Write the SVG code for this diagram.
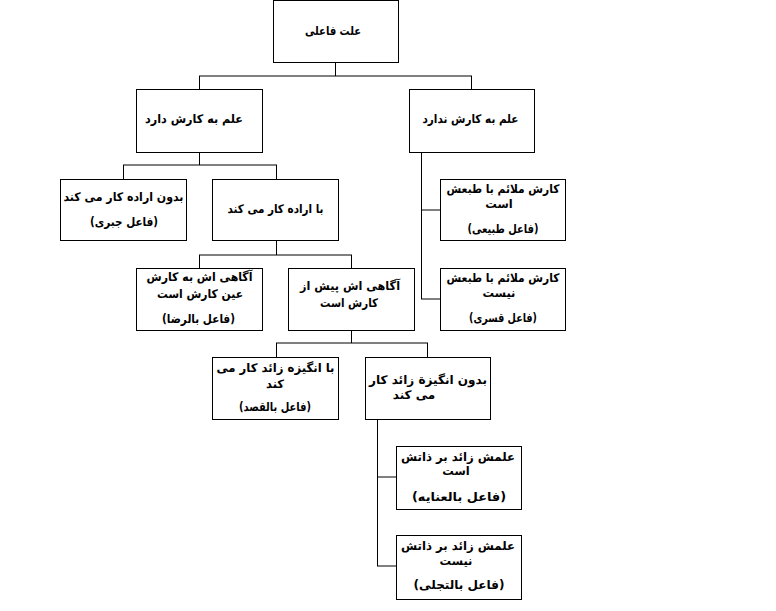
<svg xmlns="http://www.w3.org/2000/svg" width="776" height="611" viewBox="0 0 776 611">
<style>
rect.b{fill:#fff;stroke:#000;stroke-width:1}
text{font-family:"DejaVu Sans",sans-serif;font-weight:bold;font-size:12px;fill:#000;text-anchor:middle;direction:rtl}
text.s{font-size:11.5px}
.c path{fill:none;stroke:#000;stroke-width:1}
</style>
<rect width="776" height="611" fill="#fff"/>
<g class="c" id="connectors">
<path d="M335.5 63V76M199 76H472M199.5 76V89M471.5 76V89"/>
<path d="M199.5 153V165M123 165H277M123.5 165V179M276.5 165V179"/>
<path d="M276.5 241V255M199 255H352M199.5 255V268M351.5 255V268"/>
<path d="M351.5 331V343M276 343H428M276.5 343V357M427.5 343V357"/>
<path d="M421.5 153V299M421 210H440M421 299H440"/>
<path d="M377.5 420V566M377 477H396M377 566H396"/>
</g>
<g id="n_root"><rect class="b" x="273.5" y="0.5" width="125" height="62"/><text x="333" y="35" textLength="56" lengthAdjust="spacingAndGlyphs">علت فاعلی</text></g>
<g id="n_dard"><rect class="b" x="136.5" y="89.5" width="126" height="63"/><text x="194" y="123" textLength="98" lengthAdjust="spacingAndGlyphs">علم به کارش دارد</text></g>
<g id="n_nadard"><rect class="b" x="409.5" y="89.5" width="125" height="63"/><text x="470.5" y="123" textLength="96" lengthAdjust="spacingAndGlyphs">علم به کارش ندارد</text></g>
<g id="n_jabri"><rect class="b" x="60.5" y="179.5" width="126" height="61"/><text x="123.5" y="201" textLength="120" lengthAdjust="spacingAndGlyphs">بدون اراده کار می کند</text><text x="124" y="226" textLength="68" lengthAdjust="spacingAndGlyphs">(فاعل جبری)</text></g>
<g id="n_eradeh"><rect class="b" x="212.5" y="179.5" width="126" height="61"/><text x="275.5" y="213" textLength="96" lengthAdjust="spacingAndGlyphs">با اراده کار می کند</text></g>
<g id="n_tabii"><rect class="b" x="440.5" y="179.5" width="125" height="61"/><text x="503" y="193" textLength="113" lengthAdjust="spacingAndGlyphs">کارش ملائم با طبعش</text><text class="s" x="499" y="208">است</text><text x="503" y="233" textLength="71" lengthAdjust="spacingAndGlyphs">(فاعل طبیعی)</text></g>
<g id="n_reza"><rect class="b" x="136.5" y="268.5" width="126" height="62"/><text x="199.5" y="281" textLength="106" lengthAdjust="spacingAndGlyphs">آگاهی اش به کارش</text><text x="200" y="298" textLength="86" lengthAdjust="spacingAndGlyphs">عین کارش است</text><text x="198.5" y="323" textLength="73" lengthAdjust="spacingAndGlyphs">(فاعل بالرضا)</text></g>
<g id="n_pish"><rect class="b" x="288.5" y="268.5" width="126" height="62"/><text x="350" y="290" textLength="100" lengthAdjust="spacingAndGlyphs">آگاهی اش پیش از</text><text x="349" y="307" textLength="58" lengthAdjust="spacingAndGlyphs">کارش است</text></g>
<g id="n_qasri"><rect class="b" x="440.5" y="268.5" width="125" height="62"/><text x="503" y="282" textLength="113" lengthAdjust="spacingAndGlyphs">کارش ملائم با طبعش</text><text class="s" x="499" y="297">نیست</text><text x="503" y="322" textLength="68" lengthAdjust="spacingAndGlyphs">(فاعل قسری)</text></g>
<g id="n_qasd"><rect class="b" x="212.5" y="357.5" width="126" height="62"/><text x="275.5" y="372" textLength="118" lengthAdjust="spacingAndGlyphs">با انگیزه زائد کار می</text><text class="s" x="275" y="388">کند</text><text x="275" y="411" textLength="72" lengthAdjust="spacingAndGlyphs">(فاعل بالقصد)</text></g>
<g id="n_bedun"><rect class="b" x="365.5" y="357.5" width="125" height="62"/><text x="428" y="384" textLength="118" lengthAdjust="spacingAndGlyphs">بدون انگیزة زائد کار</text><text x="414" y="399">می کند</text></g>
<g id="n_enayah"><rect class="b" x="396.5" y="446.5" width="125" height="63"/><text x="458" y="461" textLength="114" lengthAdjust="spacingAndGlyphs">علمش زائد بر ذاتش</text><text class="s" x="456" y="475">است</text><text x="459" y="501" textLength="94" lengthAdjust="spacingAndGlyphs">(فاعل بالعنایه)</text></g>
<g id="n_tajalli"><rect class="b" x="396.5" y="535.5" width="125" height="64"/><text x="458" y="550" textLength="114" lengthAdjust="spacingAndGlyphs">علمش زائد بر ذاتش</text><text class="s" x="456" y="565">نیست</text><text x="459" y="589" textLength="91" lengthAdjust="spacingAndGlyphs">(فاعل بالتجلی)</text></g>
</svg>
